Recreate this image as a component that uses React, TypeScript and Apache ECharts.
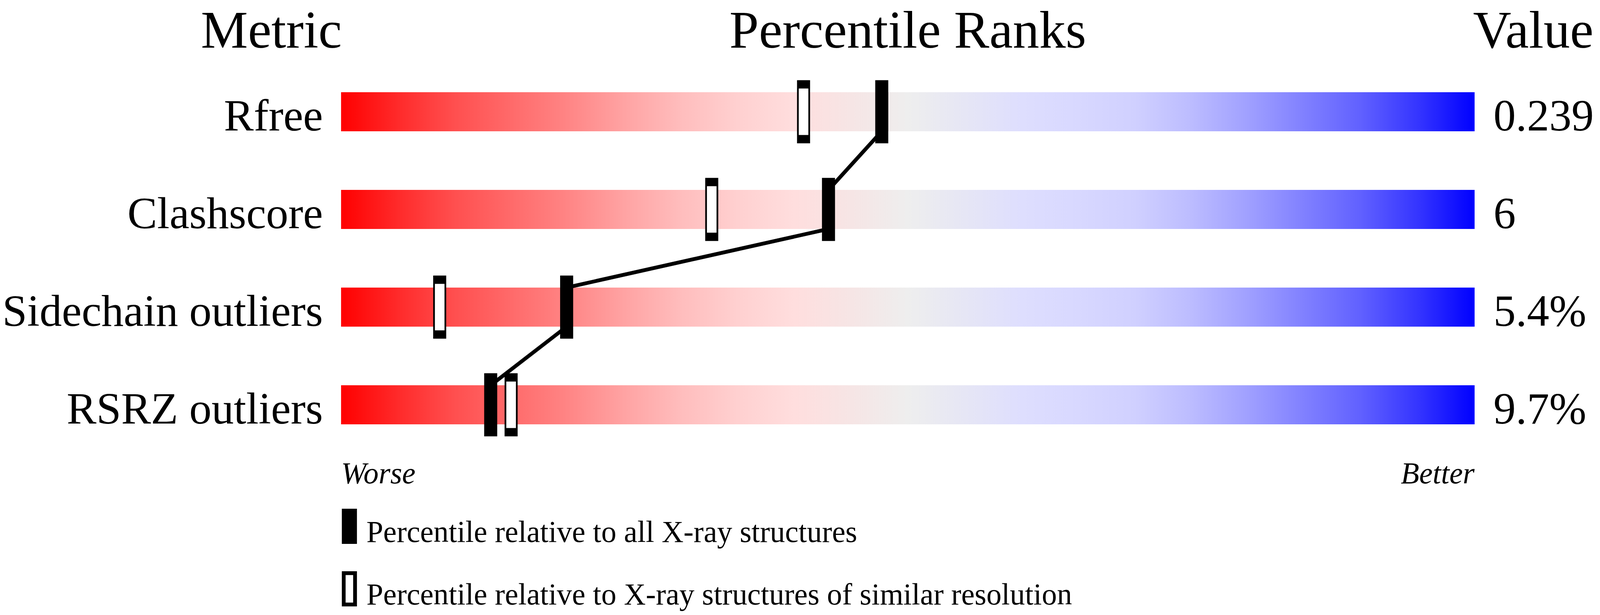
import { useEffect, useRef } from 'react';
import * as echarts from 'echarts';

// Data
const METRICS = ['Rfree', 'Clashscore', 'Sidechain outliers', 'RSRZ outliers'];
const VALUES = ['0.239', '6', '5.4%', '9.7%'];
const PCT_ALL = [47.7, 43.0, 19.9, 13.2];
const PCT_SIMILAR = [40.8, 32.7, 8.7, 15.0];
const SCALE_ENDS = ['Worse', 'Better'];
const TITLES = ['Metric', 'Percentile Ranks', 'Value'];
const LEGEND_ALL = 'Percentile relative to all X-ray structures';
const LEGEND_SIMILAR = 'Percentile relative to X-ray structures of similar resolution';

// red -> grey -> blue slider gradient
const GRADIENT_OFFSETS = [0, 0.05, 0.1, 0.15, 0.2, 0.25, 0.3, 0.35, 0.4, 0.45, 0.5, 0.55, 0.6, 0.65, 0.7, 0.75, 0.8, 0.85, 0.9, 0.95, 1];
const GRADIENT_COLORS = [
  '#ff0000', '#ff2a2a', '#ff4f4f', '#ff6a6a', '#ff8585', '#ffa3a3', '#ffbdbd', '#ffd0d0', '#ffdede', '#f6e5e5', '#eeeeee',
  '#e6e6f5', '#dedefe', '#d8d8ff', '#d0d0ff', '#bcbcff', '#a0a0ff', '#8080ff', '#6060ff', '#3535ff', '#0000ff',
];

const FONT = "'Liberation Serif', 'Times New Roman', serif";
// layout below is written in reference pixels and mapped onto the viewport
const REF_W = 4236;
const REF_H = 1574;

export default function App() {
  const chartRef = useRef<HTMLDivElement>(null);

  useEffect(() => {
    const el = chartRef.current;
    if (!el) return;
    document.body.style.margin = '0';
    const chart = echarts.init(el, null, { renderer: 'svg' });
    const sx = el.clientWidth / REF_W;
    const sy = el.clientHeight / REF_H;
    const px = (v: number) => v * sx;
    const py = (v: number) => v * sy;
    const barH = py(100);
    const bw = px(10);

    const links = PCT_ALL.slice(0, -1).map((v, i) => [v, i, PCT_ALL[i + 1], i + 1]);

    const titleStyle = (text: string, align: string) => ({
      text,
      font: `${px(140)}px ${FONT}`,
      textAlign: align,
      textVerticalAlign: 'middle',
      align,
      verticalAlign: 'middle',
      fill: '#000',
    });

    const labelRich = (size: number, padTop: number, padLeft = 0) => ({
      t: { fontFamily: FONT, fontSize: px(size), color: '#000', padding: [py(padTop), 0, 0, padLeft] },
    });

    const legendBlock = (name: string, fill: string, top: number) => ({
      orient: 'vertical',
      left: px(900) + bw / 2,
      top: py(top),
      padding: 0,
      itemWidth: px(40) - bw,
      itemHeight: py(90) - bw,
      selectedMode: false,
      formatter: '{t|{name}}',
      textStyle: { fontFamily: FONT, fontSize: px(80), color: '#000', rich: labelRich(80, 28, px(25)) },
      data: [{ name, icon: 'rect', itemStyle: { color: fill, borderColor: '#000', borderWidth: bw } }],
    });

    const categoryAxis = (data: string[], position: string, margin: number) => ({
      type: 'category',
      data,
      inverse: true,
      position,
      axisLine: { show: false },
      axisTick: { show: false },
      splitLine: { show: false },
      axisLabel: {
        interval: 0,
        margin: px(margin),
        formatter: (v: string) => `{t|${v}}`,
        rich: labelRich(118, 18),
      },
    });

    const option: any = {
      animation: false,
      backgroundColor: '#ffffff',
      grid: { left: px(903), right: px(332), top: py(161), bottom: py(413), outerBoundsMode: 'none' },
      xAxis: {
        type: 'value',
        min: 0,
        max: 100,
        interval: 100,
        axisLine: { show: false },
        axisTick: { show: false },
        splitLine: { show: false },
        axisLabel: {
          formatter: (v: number) => (v === 0 ? SCALE_ENDS[0] : SCALE_ENDS[1]),
          fontFamily: FONT,
          fontStyle: 'italic',
          fontSize: px(80),
          color: '#000',
          margin: py(11),
          alignMinLabel: 'left',
          alignMaxLabel: 'right',
        },
      },
      yAxis: [categoryAxis(METRICS, 'left', 48), categoryAxis(VALUES, 'right', 50)],
      legend: [legendBlock(LEGEND_ALL, '#000', 1302), legendBlock(LEGEND_SIMILAR, '#fff', 1462)],
      graphic: [
        { type: 'text', x: px(905), y: py(76), style: titleStyle(TITLES[0], 'right') },
        { type: 'text', x: px(2403.5), y: py(76), style: titleStyle(TITLES[1], 'center') },
        { type: 'text', x: px(3900), y: py(76), style: titleStyle(TITLES[2], 'left') },
      ],
      series: [
        {
          type: 'bar',
          data: METRICS.map(() => 100),
          barWidth: barH,
          silent: true,
          z: 1,
          itemStyle: {
            color: new echarts.graphic.LinearGradient(
              0, 0, 1, 0,
              GRADIENT_OFFSETS.map((o, i) => ({ offset: o, color: GRADIENT_COLORS[i] })),
            ),
          },
        },
        {
          type: 'custom',
          name: 'link',
          data: links,
          encode: { x: [0, 2], y: [1, 3] },
          z: 2,
          silent: true,
          renderItem: (_params: any, api: any) => {
            const a = api.coord([api.value(0), api.value(1)]);
            const b = api.coord([api.value(2), api.value(3)]);
            return {
              type: 'line',
              shape: { x1: a[0], y1: a[1] + barH / 2, x2: b[0], y2: b[1] - barH / 2 },
              style: { stroke: '#000', lineWidth: px(10) },
            };
          },
        },
        {
          type: 'scatter',
          name: LEGEND_ALL,
          data: PCT_ALL.map((v, i) => [v, i]),
          symbol: 'rect',
          symbolSize: [px(40) - bw, py(150) - bw],
          z: 3,
          itemStyle: { color: '#000', borderColor: '#000', borderWidth: bw, opacity: 1 },
        },
        {
          type: 'scatter',
          name: LEGEND_SIMILAR,
          data: PCT_SIMILAR.map((v, i) => [v, i]),
          symbol: 'rect',
          symbolSize: [px(40) - bw, py(150) - bw],
          z: 3,
          itemStyle: { color: '#fff', borderColor: '#000', borderWidth: bw, opacity: 1 },
        },
      ],
    };

    chart.setOption(option);

    return () => {
      chart.dispose();
    };
  }, []);

  return <div ref={chartRef} style={{ position: 'fixed', left: 0, top: 0, width: '100vw', height: '100vh' }} />;
}
